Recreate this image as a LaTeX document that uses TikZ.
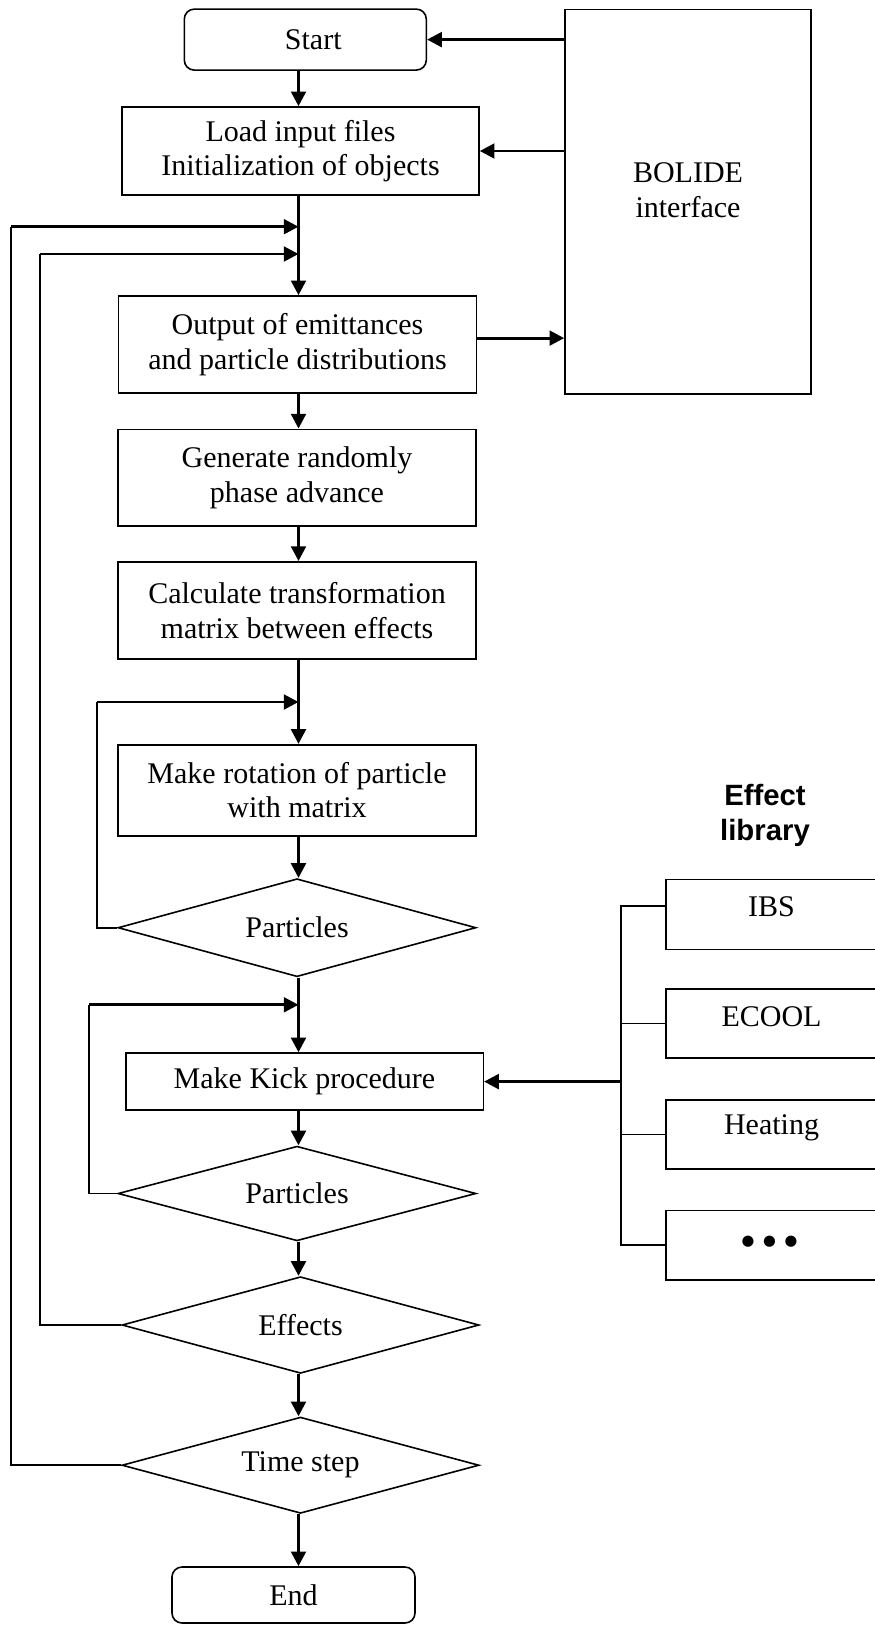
\documentclass[tikz,border=0pt]{standalone}
\usepackage{fontspec}
\setmainfont{Liberation Serif}
\newfontfamily\arialfam{Liberation Sans}
\newfontfamily\dejafam{DejaVu Sans}
\usetikzlibrary{shapes.geometric,arrows.meta}
\begin{document}
\begin{tikzpicture}[x=0.75pt,y=-0.75pt,
  every node/.style={font=\fontsize{22.5}{26}\selectfont, inner sep=0pt, align=center},
  box/.style={draw, line width=1.2pt, rectangle},
  rbox/.style={draw, line width=1.2pt, rectangle, rounded corners=7.5pt},
  dec/.style={draw, line width=1.2pt, diamond, aspect=3.7},
  arr/.style={line width=2.2pt, -{Triangle[length=11pt,width=11pt]}},
  thinline/.style={line width=1.3pt},
  plainlabel/.style={font=\fontsize{22.5}{26}\selectfont}
]
\useasboundingbox (0,0) rectangle (875,1625);

% main column
\node[rbox, minimum width=181.5pt, minimum height=45.75pt,
      label={[plainlabel, xshift=6pt]center:Start}] (start) at (305.3,39.6) {};
\node[box, minimum width=267.75pt, minimum height=66pt] (load) at (300.5,151)
  {Load input files\\Initialization of objects};
\node[box, minimum width=184.5pt, minimum height=288.5pt,
      label={[plainlabel, yshift=8.5pt]center:BOLIDE\\interface}] (bolide) at (688,201.7) {};
\node[box, minimum width=268.5pt, minimum height=72.75pt] (output) at (297.5,344.5)
  {Output of emittances\\and particle distributions};
\node[box, minimum width=268.5pt, minimum height=72.5pt] (gen) at (297,477.7)
  {Generate randomly\\phase advance};
\node[box, minimum width=268.5pt, minimum height=72.75pt] (calc) at (297,610.3)
  {Calculate transformation\\matrix between effects};
\node[box, minimum width=268.5pt, minimum height=68.25pt] (rot) at (297,790.2)
  {Make rotation of particle\\with matrix};
\node[dec, minimum width=268.5pt, minimum height=73.5pt] (part1) at (297,927.7) {Particles};
\node[box, minimum width=268.2pt, minimum height=42.75pt] (kick) at (304.5,1081.6)
  {Make Kick procedure};
\node[dec, minimum width=268.5pt, minimum height=71pt] (part2) at (297,1193.5) {Particles};
\node[dec, minimum width=267.75pt, minimum height=72.5pt] (effects) at (300.5,1325) {Effects};
\node[dec, minimum width=267.75pt, minimum height=72.2pt] (tstep) at (300.5,1465.2) {Time step};
\node[rbox, minimum width=182.25pt, minimum height=42pt] (end) at (293.5,1595) {End};

% effect library
\node[font=\arialfam\bfseries\fontsize{22}{26}\selectfont] (libtitle) at (765,815.5) {Effect\\library};
\node[box, minimum width=158.25pt, minimum height=52.5pt,
      label={[plainlabel, yshift=5.5pt]center:IBS}] (ibs) at (771.5,914.3) {};
\node[box, minimum width=158.25pt, minimum height=52pt,
      label={[plainlabel, yshift=5pt]center:ECOOL}] (ecool) at (771.5,1023.5) {};
\node[box, minimum width=158.25pt, minimum height=52pt,
      label={[plainlabel, yshift=5pt]center:Heating}] (heat) at (771.5,1134.5) {};
\node[box, minimum width=158.25pt, minimum height=52pt,
      label={[font=\dejafam\fontsize{11}{12}\selectfont, xshift=-1.5pt, yshift=2.5pt]center:\makebox[16.2pt]{●}\makebox[16.2pt]{●}\makebox[16.2pt]{●}}] (dots) at (771.5,1245.3) {};

% helper coordinates
\coordinate (sp) at (298.5,0);
\coordinate (brk) at (620.7,0);
\coordinate (j1) at (298.5,226.7);
\coordinate (j2) at (298.5,254);
\coordinate (j3) at (298.5,702);
\coordinate (j4) at (298.5,1004.8);
\coordinate (c1) at (11,226.7);
\coordinate (c2) at (40,254);
\coordinate (c3) at (96.7,702);
\coordinate (c4) at (89.3,1004.8);

% spine arrows
\draw[arr] (start.south -| sp) -- (load.north -| sp);
\draw[arr] (load.south -| sp) -- (output.north -| sp);
\draw[arr] (output.south -| sp) -- (gen.north -| sp);
\draw[arr] (gen.south -| sp) -- (calc.north -| sp);
\draw[arr] (calc.south -| sp) -- (rot.north -| sp);
\draw[arr] (rot.south -| sp) -- (part1.north -| sp);
\draw[arr] (part1.south -| sp) -- (kick.north -| sp);
\draw[arr] (kick.south -| sp) -- (part2.north -| sp);
\draw[arr] (part2.south -| sp) -- (effects.north -| sp);
\draw[arr] (effects.south -| sp) -- (tstep.north -| sp);
\draw[arr] (tstep.south -| sp) -- (end.north -| sp);

% BOLIDE arrows
\draw[arr] (bolide.west |- start.east) -- (start.east);
\draw[arr] (bolide.west |- load.east) -- (load.east);
\draw[arr] ([yshift=4.8pt]output.east) -- ([yshift=4.8pt]output.east -| bolide.west);

% loops
\draw[thinline] (tstep.west) -| (c1);
\draw[arr] (c1) -- (j1);
\draw[thinline] (effects.west) -| (c2);
\draw[arr] (c2) -- (j2);
\draw[thinline] (part1.west) -| (c3);
\draw[arr] (c3) -- (j3);
\draw[thinline] (part2.west) -| (c4);
\draw[arr] (c4) -- (j4);

% effect library bracket
\draw[thinline] ([yshift=6pt]ibs.west) -| (brk |- dots.west) -- (dots.west);
\draw[thinline] (ecool.west) -- (ecool.west -| brk);
\draw[thinline] (heat.west) -- (heat.west -| brk);
\draw[arr] (brk |- kick.east) -- (kick.east);
\end{tikzpicture}
\end{document}
